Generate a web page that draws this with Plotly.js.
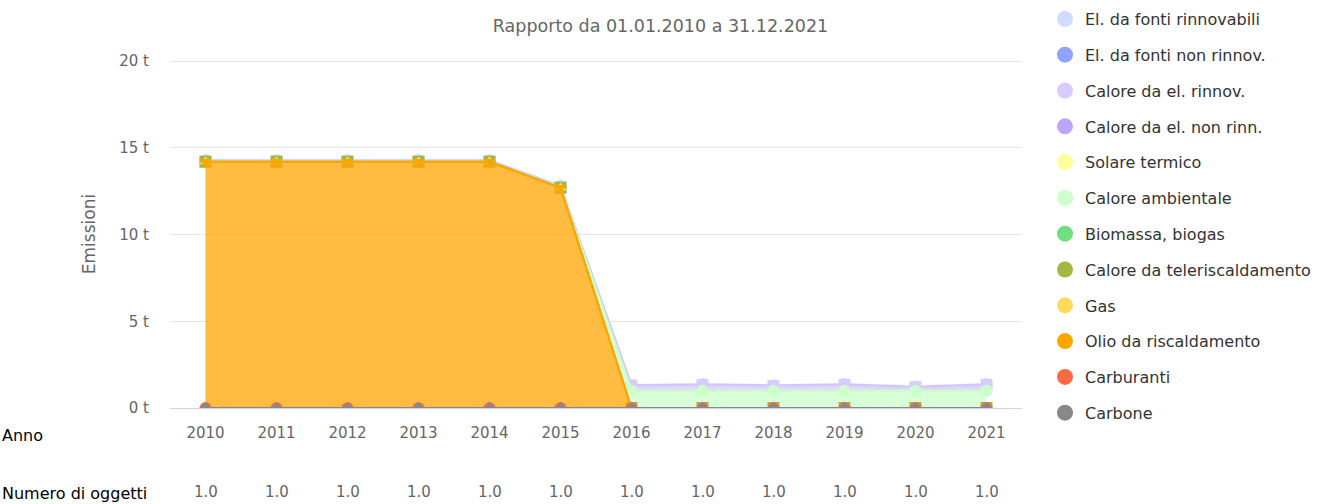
<!DOCTYPE html>
<html>
<head>
<meta charset="utf-8">
<script src="https://cdn.plot.ly/plotly-3.0.1.min.js"></script>
<style>
html,body{margin:0;padding:0;background:#fff;}
#chart{width:1321px;height:504px;}
</style>
</head>
<body>
<div id="chart"></div>
<script>
// ---- data ----
const years = [2010, 2011, 2012, 2013, 2014, 2015, 2016, 2017, 2018, 2019, 2020, 2021];
const objectCounts = ["1.0", "1.0", "1.0", "1.0", "1.0", "1.0", "1.0", "1.0", "1.0", "1.0", "1.0", "1.0"];
const yTickVals = [0, 5, 10, 15, 20];
const yTickText = ["0 t", "5 t", "10 t", "15 t", "20 t"];

// series (tonnes), listed in legend order (top of stack first)
const elRinnovabili     = [0.1, 0.1, 0.1, 0.1, 0.1, 0.12, 0.04, 0.05, 0.04, 0.05, 0.04, 0.05];
const elNonRinnov       = [0, 0, 0, 0, 0, 0, 0, 0, 0, 0, 0, 0];
const caloreElRinnov    = [0, 0, 0, 0, 0, 0, 0.28, 0.33, 0.27, 0.33, 0.22, 0.33];
const caloreElNonRinn   = [0, 0, 0, 0, 0, 0, 0, 0, 0, 0, 0, 0];
const solareTermico     = [0, 0, 0, 0, 0, 0, 0, 0, 0, 0, 0, 0];
const caloreAmbientale  = [0, 0, 0, 0, 0, 0, 1.0, 1.0, 1.0, 1.0, 0.98, 1.0];
const biomassaBiogas    = [0, 0, 0, 0, 0, 0, 0, 0, 0, 0, 0, 0];
const teleriscaldamento = [0, 0, 0, 0, 0, 0, 0, 0, 0, 0, 0, 0];
const gas               = [0, 0, 0, 0, 0, 0, 0, 0, 0, 0, 0, 0];
const olioRiscaldamento = [14.2, 14.2, 14.2, 14.2, 14.2, 12.7, 0, 0, 0, 0, 0, 0];
const carburanti        = [0, 0, 0, 0, 0, 0, 0, 0, 0, 0, 0, 0];
const carbone           = [0, 0, 0, 0, 0, 0, 0, 0, 0, 0, 0, 0];

const seriesNames = ["El. da fonti rinnovabili", "El. da fonti non rinnov.", "Calore da el. rinnov.",
  "Calore da el. non rinn.", "Solare termico", "Calore ambientale", "Biomassa, biogas",
  "Calore da teleriscaldamento", "Gas", "Olio da riscaldamento", "Carburanti", "Carbone"];
const seriesValues = [elRinnovabili, elNonRinnov, caloreElRinnov, caloreElNonRinn, solareTermico,
  caloreAmbientale, biomassaBiogas, teleriscaldamento, gas, olioRiscaldamento, carburanti, carbone];

// ---- styles ----
const colors = ["#D0DCFF", "#8FA3FF", "#DACBFF", "#BBA5FF", "#FFFF99", "#CCFFCC", "#6FDF80",
  "#A3B842", "#FFDB5C", "#FFA500", "#FF6A45", "#888888"];
const symbols = ["circle", "diamond", "square", "triangle-up", "triangle-down"];
const MARKER = 12;
const symbolScale = {"circle": 1, "diamond": 1 / 1.3, "square": 1, "triangle-up": 1 / 1.15, "triangle-down": 1 / 1.15};

function rgba(hex, a) {
  const r = parseInt(hex.slice(1, 3), 16), g = parseInt(hex.slice(3, 5), 16), b = parseInt(hex.slice(5, 7), 16);
  return `rgba(${r},${g},${b},${a})`;
}

const FONT = "DejaVu Sans, Verdana, sans-serif";
const n = seriesNames.length;

// stacking: first series on top, last series at the bottom
const bottoms = [], tops = [];
for (let i = n - 1; i >= 0; i--) {
  const base = (i === n - 1) ? years.map(() => 0) : tops[i + 1];
  bottoms[i] = base;
  tops[i] = base.map((b, k) => b + seriesValues[i][k]);
}

const traces = [];
// draw in series order (later series painted over earlier ones)
for (let i = 0; i < n; i++) {
  const sym = symbols[i % 5];
  traces.push({
    type: "scatter",
    x: years.concat(years.slice().reverse()),
    y: tops[i].concat(bottoms[i].slice().reverse()),
    fill: "toself",
    fillcolor: rgba(colors[i], 0.75),
    mode: "lines",
    line: {width: 0, color: colors[i]},
    showlegend: false,
    hoverinfo: "skip"
  });
  traces.push({
    type: "scatter",
    x: years,
    y: tops[i],
    customdata: seriesValues[i],
    name: seriesNames[i],
    mode: "lines+markers",
    line: {color: colors[i], width: 2},
    marker: {color: colors[i], symbol: sym, size: MARKER * symbolScale[sym], line: {width: 0}},
    showlegend: false,
    hovertemplate: "%{x}: %{customdata} t<extra>" + seriesNames[i] + "</extra>"
  });
}
// legend entries (circle symbols, as in the reference)
for (let i = 0; i < n; i++) {
  traces.push({
    type: "scatter",
    x: [null], y: [null],
    name: seriesNames[i],
    mode: "markers",
    marker: {color: colors[i], symbol: "circle", size: 16},
    legendgroup: "g" + i,
    showlegend: true,
    hoverinfo: "skip"
  });
}

const annotations = [
  {xref: "paper", yref: "paper", x: -170/852, y: -(435-408)/348, xanchor: "left", yanchor: "middle",
   text: "Anno", showarrow: false, font: {family: FONT, size: 16, color: "#000"}},
  {xref: "paper", yref: "paper", x: -170/852, y: -(493-408)/348, xanchor: "left", yanchor: "middle",
   text: "Numero di oggetti", showarrow: false, font: {family: FONT, size: 16, color: "#000"}}
];
years.forEach((yr, k) => {
  annotations.push({xref: "x", yref: "paper", x: yr, y: -(492-408)/348, yanchor: "middle",
    text: objectCounts[k], showarrow: false, font: {family: FONT, size: 15, color: "#666"}});
});

const layout = {
  width: 1321, height: 504,
  margin: {l: 170, r: 299, t: 60, b: 96, pad: 0},
  paper_bgcolor: "#fff", plot_bgcolor: "#fff",
  font: {family: FONT, color: "#666"},
  title: {text: "Rapporto da 01.01.2010 a 31.12.2021", x: 0.5, xref: "container", xanchor: "center",
          y: 1 - 26/504, yref: "container", yanchor: "middle", font: {family: FONT, size: 17.5, color: "#666"}},
  xaxis: {range: [2009.5, 2021.5], tickvals: years, ticktext: years.map(String), showgrid: false,
          zeroline: false, showline: true, linecolor: "#ccd6eb", linewidth: 1, ticks: "",
          ticklabelstandoff: 11,
          tickfont: {family: FONT, size: 15, color: "#666"}, fixedrange: true},
  yaxis: {range: [0, 20.06], tickvals: yTickVals, ticktext: yTickText, showgrid: true,
          gridcolor: "#e6e6e6", gridwidth: 1, zeroline: false, showline: false, ticks: "",
          ticklabelstandoff: 20,
          tickfont: {family: FONT, size: 15, color: "#666"},
          title: {text: "Emissioni", standoff: 19, font: {family: FONT, size: 17, color: "#666"}}},
  legend: {xref: "container", yref: "container", x: 1045/1321, xanchor: "left", y: 1 - 2/504, yanchor: "top",
           traceorder: "grouped", maxheight: 504,
           font: {family: FONT, size: 16, color: "#333"}, tracegroupgap: 12,
           bgcolor: "rgba(0,0,0,0)", itemclick: false, itemdoubleclick: false},
  annotations: annotations,
  hovermode: "closest"
};

Plotly.newPlot("chart", traces, layout, {displayModeBar: false, responsive: false});
</script>
</body>
</html>
